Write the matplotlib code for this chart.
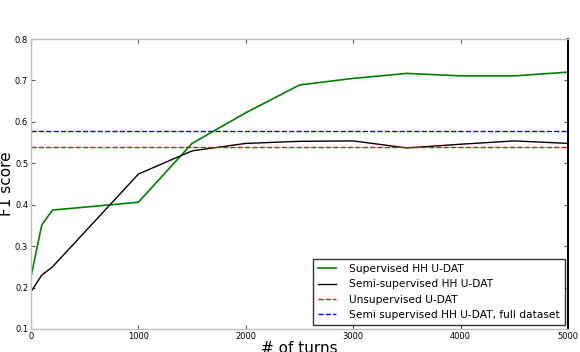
import matplotlib
matplotlib.use('Agg')
import matplotlib.pyplot as plt

# turns (x) and F1 scores
turns_sup = [0, 100, 200, 1000, 1500, 2000, 2500, 3000, 3500, 4000, 4500, 5000]
f1_sup = [0.226, 0.351, 0.387, 0.406, 0.548, 0.622, 0.689, 0.705, 0.717, 0.711, 0.711, 0.72]

turns_semi = [0, 100, 200, 1000, 1500, 2000, 2500, 3000, 3500, 4000, 4500, 5000]
f1_semi = [0.19, 0.23, 0.25, 0.474, 0.53, 0.548, 0.553, 0.554, 0.537, 0.546, 0.554, 0.548]

unsup_f1 = 0.54
semi_full_f1 = 0.578

labels = ['Supervised HH U-DAT', 'Semi-supervised HH U-DAT',
          'Unsupervised U-DAT', 'Semi supervised HH U-DAT, full dataset']

x_ticks = [0, 1000, 2000, 3000, 4000, 5000]
y_ticks = [0.1, 0.2, 0.3, 0.4, 0.5, 0.6, 0.7, 0.8]

fig = plt.figure(figsize=(5.8, 3.52), dpi=100)
ax = fig.add_axes([31 / 580, 1 - 329 / 352, 537 / 580, 290 / 352])

ax.plot(turns_sup, f1_sup, color='green', linewidth=1.2, label=labels[0])
ax.plot(turns_semi, f1_semi, color='black', linewidth=1.0, label=labels[1])
ax.axhline(unsup_f1, color='red', linestyle='--', linewidth=1.0, label=labels[2])
ax.axhline(semi_full_f1, color='blue', linestyle='--', linewidth=1.0, label=labels[3])

ax.set_xlim(0, 5000)
ax.set_ylim(0.1, 0.8)
ax.set_xticks(x_ticks)
ax.set_yticks(y_ticks)
ax.set_xticklabels([str(t) for t in x_ticks])
ax.set_yticklabels(['%.1f' % t for t in y_ticks])
ax.tick_params(direction='in', length=3, labelsize=6, pad=2,
               top=True, right=True, color='#555555')

for side in ['left', 'top', 'bottom']:
    ax.spines[side].set_color('#c0c0c0')
    ax.spines[side].set_linewidth(1.0)
ax.spines['right'].set_color('black')
ax.spines['right'].set_linewidth(1.4)

ax.set_ylabel('F1 score', fontsize=11)
ax.yaxis.set_label_coords(-0.032, 0.5)
ax.set_xlabel('# of turns', fontsize=11, labelpad=0)

leg = ax.legend(loc='lower right', fontsize=7.7, frameon=True, fancybox=False,
                borderpad=0.45, labelspacing=0.5, handlelength=1.7,
                handletextpad=1.2, borderaxespad=0,
                bbox_to_anchor=(0.994, 0.014))
leg.get_frame().set_edgecolor('black')
leg.get_frame().set_linewidth(1.0)

fig.savefig('out.png', dpi=100)
